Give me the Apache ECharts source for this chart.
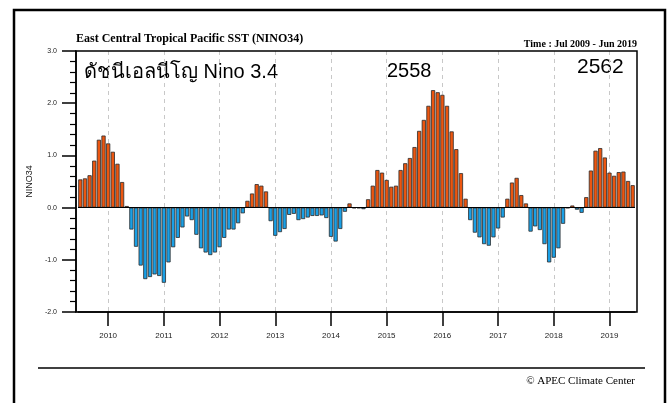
<!DOCTYPE html>
<html>
<head>
<meta charset="utf-8">
<title>NINO34</title>
<script src="https://cdn.jsdelivr.net/npm/echarts@6/dist/echarts.min.js"></script>
<style>
	html, body {margin: 0; padding: 0; background: #fff;}
	#nino {width: 668px; height: 403px;}
</style>
</head>
<body>
<div id="nino"></div>
<script>
// months Jul 2009 - Jun 2019
var startYear = 2009, startMonth = 7;
var months = [];
for (var i = 0; i < 120; i++) {
	var m = (startMonth - 1 + i) % 12 + 1;
	var y = startYear + Math.floor((startMonth - 1 + i) / 12);
	months.push(y + '-' + (m < 10 ? '0' + m : m));
}

// NINO3.4 anomaly
var nino34 = [
	0.54, 0.56, 0.62, 0.90, 1.30, 1.38, 1.23, 1.07, 0.84, 0.49, 0.03, -0.42,
	-0.75, -1.11, -1.37, -1.33, -1.28, -1.31, -1.44, -1.05, -0.76, -0.58, -0.38, -0.17,
	-0.24, -0.52, -0.78, -0.86, -0.91, -0.86, -0.76, -0.58, -0.42, -0.42, -0.30, -0.11,
	0.13, 0.27, 0.45, 0.42, 0.31, -0.26, -0.54, -0.47, -0.41, -0.14, -0.12, -0.24,
	-0.22, -0.19, -0.16, -0.16, -0.15, -0.20, -0.56, -0.65, -0.41, -0.08, 0.08, -0.01,
	-0.01, -0.03, 0.16, 0.42, 0.72, 0.67, 0.53, 0.40, 0.42, 0.72, 0.85, 0.95,
	1.16, 1.47, 1.68, 1.95, 2.25, 2.21, 2.16, 1.95, 1.46, 1.12, 0.66, 0.17,
	-0.24, -0.48, -0.57, -0.70, -0.73, -0.57, -0.40, -0.19, 0.17, 0.48, 0.57, 0.24,
	0.08, -0.46, -0.36, -0.43, -0.70, -1.05, -0.96, -0.78, -0.31, -0.01, 0.04, -0.04,
	-0.10, 0.20, 0.71, 1.09, 1.14, 0.96, 0.67, 0.61, 0.68, 0.69, 0.51, 0.43
];

var yearLabels = ['2010', '2011', '2012', '2013', '2014', '2015', '2016', '2017', '2018', '2019'];
var yTicks = [-2, -1, 0, 1, 2, 3];

var warmColor = '#ec5610', coolColor = '#1aa0e6';

// only January gets a tick / label
function isJan(index) {
	return months[index].slice(5) === '01';
}

var myChart = echarts.init(document.getElementById('nino'));
myChart.setOption({
	animation: false,
	grid: {left: 78, top: 51, width: 557, height: 261, containLabel: false},
	xAxis: {
		type: 'category',
		data: months,
		boundaryGap: true,
		axisLine: {show: true, onZero: false, lineStyle: {color: '#000', width: 1.5}},
		axisTick: {
			show: true,
			alignWithLabel: true,
			interval: function (index) { return isJan(index); },
			length: 14,
			lineStyle: {color: '#000', width: 1.5}
		},
		axisLabel: {
			interval: function (index) { return isJan(index); },
			formatter: function (v) {
				var yr = v.slice(0, 4);
				return yearLabels.indexOf(yr) >= 0 ? yr : '';
			},
			margin: 20,
			fontSize: 8,
			color: '#222',
			fontFamily: 'Liberation Sans'
		},
		splitLine: {
			show: true,
			alignWithLabel: true,
			interval: function (index) { return isJan(index); },
			lineStyle: {color: '#c8c8c8', type: [4, 4], width: 1}
		}
	},
	yAxis: {
		type: 'value',
		min: yTicks[0],
		max: yTicks[yTicks.length - 1],
		interval: 1,
		offset: 2,
		name: 'NINO34',
		nameLocation: 'middle',
		nameGap: 38,
		nameTextStyle: {fontSize: 9, color: '#222', fontFamily: 'Liberation Sans'},
		axisLine: {show: true, lineStyle: {color: '#000', width: 1.5}},
		axisTick: {show: true, length: 14, lineStyle: {color: '#000', width: 1.5}},
		minorTick: {show: true, splitNumber: 5, length: 6, lineStyle: {color: '#000', width: 1.2}},
		axisLabel: {
			margin: 19,
			fontSize: 7,
			color: '#222',
			fontFamily: 'Liberation Sans',
			formatter: function (v) { return v.toFixed(1); }
		},
		splitLine: {show: false}
	},
	series: [{
		name: 'NINO34',
		type: 'bar',
		data: nino34,
		barWidth: '90%',
		itemStyle: {
			color: function (p) { return p.value >= 0 ? warmColor : coolColor; },
			borderColor: '#2b2b2b',
			borderWidth: 0.8
		},
		markLine: {
			silent: true,
			symbol: 'none',
			label: {show: false},
			lineStyle: {color: '#000', type: 'solid', width: 1.2},
			data: [{yAxis: 0}]
		}
	}],
	graphic: [
		// outer frame
		{type: 'rect', shape: {x: 14, y: 10, width: 651, height: 430}, style: {fill: 'none', stroke: '#000', lineWidth: 2.5}, silent: true},
		// plot box
		{type: 'rect', shape: {x: 76, y: 51, width: 561, height: 261}, style: {fill: 'none', stroke: '#000', lineWidth: 1.5}, z: 100, silent: true},
		{type: 'text', left: 76, top: 33, style: {text: 'East Central Tropical Pacific SST (NINO34)', fill: '#000', font: 'bold 12px "Liberation Serif"'}},
		{type: 'text', right: 31, top: 39, style: {text: 'Time : Jul 2009 - Jun 2019', fill: '#000', font: 'bold 10px "Liberation Serif"'}},
		{type: 'text', left: 84, top: 62, style: {text: 'ดัชนีเอลนีโญ Nino 3.4', fill: '#000', font: '20px sans-serif'}},
		{type: 'text', left: 387, top: 61, style: {text: '2558', fill: '#000', font: '20px sans-serif'}},
		{type: 'text', left: 577, top: 57, style: {text: '2562', fill: '#000', font: '21px sans-serif'}},
		// bottom rule and credit
		{type: 'line', shape: {x1: 38, y1: 368, x2: 645, y2: 368}, style: {stroke: '#000', lineWidth: 1.5}},
		{type: 'text', right: 33, top: 376, style: {text: '© APEC Climate Center', fill: '#000', font: '11px "Liberation Serif"'}}
	]
});
</script>
</body>
</html>
